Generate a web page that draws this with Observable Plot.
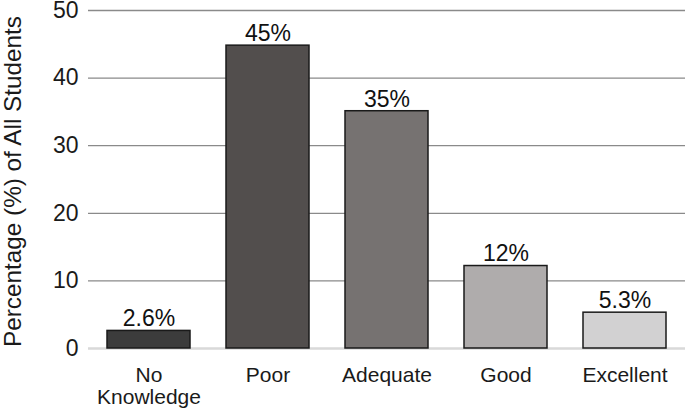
<!DOCTYPE html>
<html>
<head>
<meta charset="utf-8">
<script src="https://cdn.jsdelivr.net/npm/d3@7"></script>
<script src="https://cdn.jsdelivr.net/npm/@observablehq/plot@0.6"></script>
<style>
  html, body { margin: 0; padding: 0; background: #fff; }
  #chart svg { display: block; overflow: visible; }
</style>
</head>
<body>
<div id="chart"></div>
<script>
const categories = ["No Knowledge", "Poor", "Adequate", "Good", "Excellent"];
const tickLabels = ["No\nKnowledge", "Poor", "Adequate", "Good", "Excellent"];
const values = [2.6, 44.8, 35.1, 12.2, 5.3];
const valueLabels = ["2.6%", "45%", "35%", "12%", "5.3%"];
const colors = ["#3c3c3c", "#524e4d", "#767271", "#afacac", "#d2d1d2"];
const yTicks = [0, 10, 20, 30, 40, 50];
const yTitle = "Percentage (%) of All Students";

const data = categories.map((c, i) => ({
  category: c, value: values[i], label: valueLabels[i], color: colors[i]
}));

const fontFamily = '"Liberation Sans", Arial, Helvetica, sans-serif';

const chart = Plot.plot({
  width: 685,
  height: 410,
  marginLeft: 88,
  marginRight: 0,
  marginTop: 10,
  marginBottom: 62,
  style: { fontFamily, fontSize: "21px", color: "#1a1a1a", background: "#fff", overflow: "visible" },
  x: { domain: categories, paddingInner: 0.305, paddingOuter: 0.15, label: null },
  y: { domain: [0, 50], label: null },
  marks: [
    Plot.gridY(yTicks.filter(t => t > 0), { stroke: "#8a8a8a", strokeOpacity: 1, strokeWidth: 1.3 }),
    Plot.ruleY([0], { stroke: "#d9d9d9", strokeWidth: 2.5 }),
    Plot.barY(data, {
      x: "category", y: "value", fill: "color",
      stroke: "#1a1a1a", strokeWidth: 1.5
    }),
    Plot.text(data, {
      x: "category", y: "value", text: "label",
      dy: -12, fontSize: 23, fill: "#111"
    }),
    Plot.axisY({
      ticks: yTicks, tickSize: 0, tickPadding: 10, fontSize: 23,
      label: null, fill: "#1a1a1a"
    }),
    Plot.axisX({
      tickSize: 0, tickPadding: 18, fontSize: 21, lineHeight: 1.05,
      tickFormat: (d) => tickLabels[categories.indexOf(d)],
      label: null, fill: "#1a1a1a"
    }),
    Plot.text([yTitle], {
      frameAnchor: "left", rotate: -90, dx: -75, dy: 2,
      text: d => d, fontSize: 24.3, fill: "#1a1a1a", textAnchor: "middle"
    })
  ]
});

document.getElementById("chart").appendChild(chart);
</script>
</body>
</html>
